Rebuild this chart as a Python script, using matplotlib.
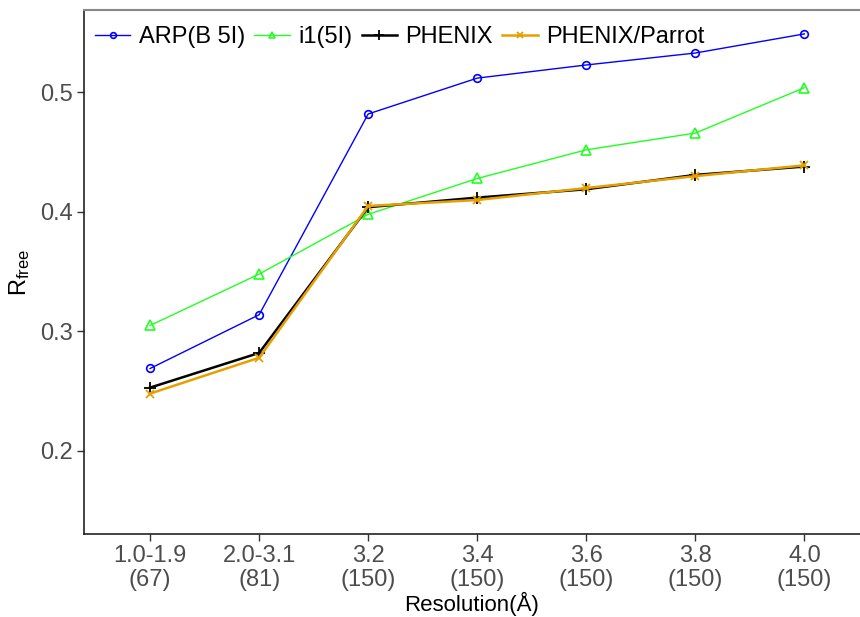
import numpy as np
import matplotlib
matplotlib.use("Agg")
import matplotlib.pyplot as plt

plt.rcParams['font.family'] = ['Liberation Sans', 'DejaVu Sans']

# ========== 数据 ==========
categories = ["1.0-1.9\n(67)", "2.0-3.1\n(81)", "3.2\n(150)", "3.4\n(150)",
              "3.6\n(150)", "3.8\n(150)", "4.0\n(150)"]
arp = [0.269, 0.314, 0.482, 0.512, 0.523, 0.533, 0.549]
i1 = [0.305, 0.348, 0.398, 0.428, 0.452, 0.466, 0.504]
phenix = [0.253, 0.282, 0.404, 0.412, 0.419, 0.431, 0.438]
parrot = [0.248, 0.278, 0.405, 0.410, 0.420, 0.430, 0.439]
yticks = [0.2, 0.3, 0.4, 0.5]

x = np.arange(len(categories))

fig = plt.figure(figsize=(8.6, 6.17), dpi=100)
ax = fig.add_axes([84 / 860, 1 - 534 / 617, 1 - 84 / 860, (534 - 10) / 617])

ax.plot(x, arp, color="#0000FF", lw=1.0, marker="o", ms=5.5, mfc="none", mew=1.2, label="ARP(B 5I)")
ax.plot(x, i1, color="#22FF22", lw=1.0, marker="^", ms=6.5, mfc="none", mew=1.2, label="i1(5I)")
ax.plot(x, phenix, color="black", lw=1.8, marker="+", ms=9, mew=1.3, label="PHENIX")
ax.plot(x, parrot, color="#E69F00", lw=1.8, marker="x", ms=6, mew=1.3, label="PHENIX/Parrot")

ax.set_xlim(-0.606, 6.51)
ax.set_ylim(0.1305, 0.569)
ax.set_xticks(x)
ax.set_xticklabels(categories, fontsize=17, color="#4D4D4D", linespacing=1.1)
ax.set_yticks(yticks)
ax.set_yticklabels([f"{v:.1f}" for v in yticks], fontsize=17, color="#4D4D4D")
ax.tick_params(length=5, width=1, color="#333333", pad=3)

ax.set_xlabel("Resolution(Å)", fontsize=16, labelpad=1)
ax.set_ylabel(r"$\mathregular{R_{free}}$", fontsize=17, labelpad=6)

for s in ["left", "bottom"]:
    ax.spines[s].set_color("#222222")
    ax.spines[s].set_linewidth(1.2)
ax.spines["top"].set_color("#888888")
ax.spines["top"].set_linewidth(1.5)
ax.spines["right"].set_visible(False)

ax.legend(loc="upper left", ncol=4, frameon=False, fontsize=17, handlelength=1.5,
          handletextpad=0.35, columnspacing=0.4, borderaxespad=0.2, markerscale=0.75,
          bbox_to_anchor=(-0.004, 0.996))

fig.savefig("out.png", dpi=100)
